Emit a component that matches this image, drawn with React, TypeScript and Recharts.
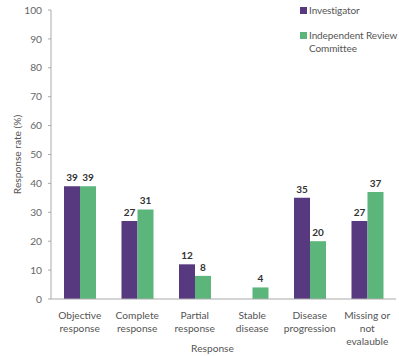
import React from 'react'
import {
  BarChart,
  Bar,
  XAxis,
  YAxis,
  LabelList,
  Label,
} from 'recharts'

const categories = [
  'Objective\nresponse',
  'Complete\nresponse',
  'Partial\nresponse',
  'Stable\ndisease',
  'Disease\nprogression',
  'Missing or\nnot\nevalauble',
]
const investigator: (number | null)[] = [39, 27, 12, null, 35, 27]
const irc: number[] = [39, 31, 8, 4, 20, 37]
const yTicks = [0, 10, 20, 30, 40, 50, 60, 70, 80, 90, 100]

const PURPLE = '#56397f'
const GREEN = '#5cb57b'
const FONT = "Lato, 'Noto Sans', sans-serif"
const TEXT_SIZE = 10.2

const data = categories.map((name, i) => ({
  name,
  investigator: investigator[i],
  irc: irc[i],
}))

const MultiLineTick = ({ x, y, payload }: any) => {
  const lines = String(payload.value).split('\n')
  return (
    <text x={x} y={y} textAnchor="middle" fill="#555" fontSize={TEXT_SIZE} fontFamily={FONT}>
      {lines.map((l, i) => (
        <tspan key={i} x={x} dy={i === 0 ? 12 : 13}>
          {l}
        </tspan>
      ))}
    </text>
  )
}

// legend sits over the top-right corner of the plot
const ChartLegend = () => (
  <div
    style={{
      position: 'absolute',
      left: 300,
      top: 4,
      fontFamily: FONT,
      fontSize: 10,
      letterSpacing: -0.1,
      color: '#555',
      lineHeight: '13px',
      whiteSpace: 'nowrap',
    }}
  >
    <div style={{ display: 'flex', alignItems: 'flex-start' }}>
      <span style={{ width: 7, height: 7, background: PURPLE, marginTop: 3, marginRight: 2 }} />
      <span>Investigator</span>
    </div>
    <div style={{ display: 'flex', alignItems: 'flex-start', marginTop: 12 }}>
      <span style={{ width: 7, height: 7, background: GREEN, marginTop: 3, marginRight: 2, flexShrink: 0 }} />
      <span>
        Independent Review
        <br />
        Committee
      </span>
    </div>
  </div>
)

const valueLabel = {
  position: 'top' as const,
  fill: '#333',
  fontSize: 10,
  fontWeight: 700,
  fontFamily: FONT,
  offset: 5,
}

export default function App() {
  return (
    <div style={{ position: 'fixed', left: 0, top: 0, width: 399, height: 356, background: '#fff' }}>
      <BarChart
        width={399}
        height={356}
        data={data}
        margin={{ top: 10, right: 3, left: 0, bottom: 12 }}
        barSize={16}
        barGap={0}
      >
        <XAxis
          dataKey="name"
          interval={0}
          tick={<MultiLineTick />}
          tickLine={false}
          axisLine={{ stroke: '#aaa' }}
          height={45}
        >
          <Label
            value="Response"
            position="insideBottom"
            offset={-8}
            dx={-11}
            fill="#555"
            fontSize={TEXT_SIZE}
            fontFamily={FONT}
          />
        </XAxis>
        <YAxis
          domain={[0, 100]}
          ticks={yTicks}
          width={51}
          tickSize={3}
          tickMargin={6}
          tick={{ fill: '#666', fontSize: TEXT_SIZE, fontFamily: FONT }}
          tickLine={{ stroke: '#aaa' }}
          axisLine={{ stroke: '#aaa' }}
        >
          <Label
            value="Response rate (%)"
            angle={-90}
            position="insideLeft"
            offset={17}
            fill="#555"
            fontSize={TEXT_SIZE}
            fontFamily={FONT}
            style={{ textAnchor: 'middle' }}
          />
        </YAxis>
        <Bar dataKey="investigator" fill={PURPLE} isAnimationActive={false}>
          <LabelList dataKey="investigator" {...valueLabel} />
        </Bar>
        <Bar dataKey="irc" fill={GREEN} isAnimationActive={false}>
          <LabelList dataKey="irc" {...valueLabel} />
        </Bar>
      </BarChart>
      <ChartLegend />
    </div>
  )
}
